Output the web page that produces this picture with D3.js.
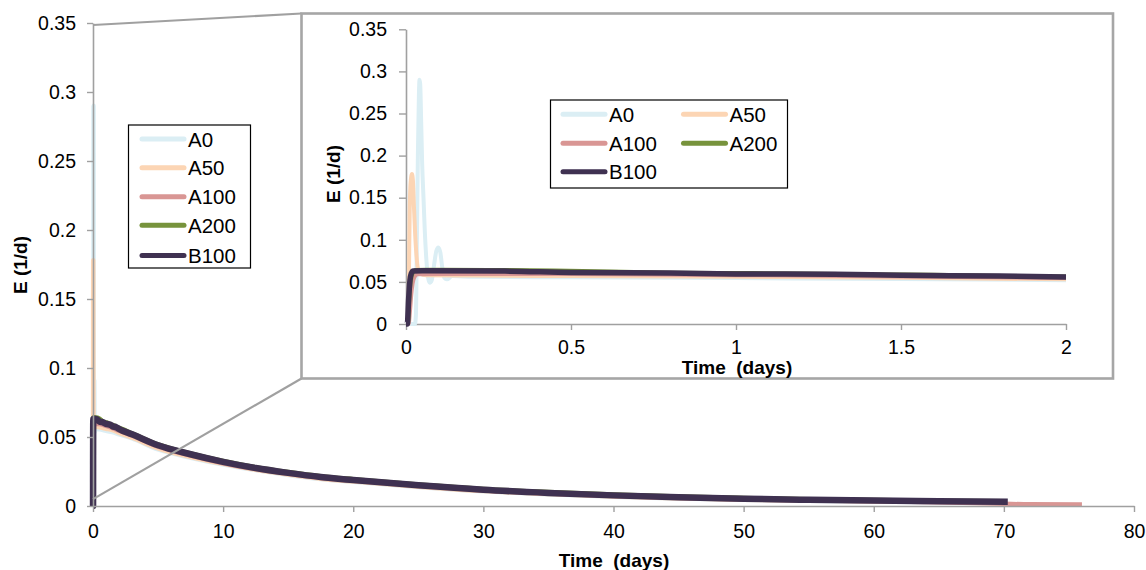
<!DOCTYPE html>
<html>
<head>
<meta charset="utf-8">
<script src="https://cdn.jsdelivr.net/npm/d3@7"></script>
<style>
  html, body { margin: 0; padding: 0; background: #fff; }
  svg { display: block; font-family: "Liberation Sans", Arial, sans-serif; }
  .title { white-space: pre; font-weight: bold; font-size: 19px; }
</style>
</head>
<body>
<svg id="chart" width="1146" height="570"></svg>
<script>
// Series names and colours
const seriesNames = ["A0", "A50", "A100", "A200", "B100"];
const seriesColors = ["#dbeef4", "#fcd5b4", "#d99694", "#77933c", "#3f3151"];
const mainWidths = [4.5, 4.5, 4.5, 4.5, 6.5];
const insetWidths = [4, 4, 4, 4, 5.5];

// E (1/d) against time (days), as [time, E] pairs
const A0 = [
  [0, 0], [0.027, 0], [0.030, 0.01], [0.033, 0.10], [0.036, 0.20], [0.039, 0.27], [0.041, 0.29],
  [0.043, 0.285], [0.046, 0.24], [0.049, 0.19], [0.053, 0.15], [0.057, 0.11], [0.062, 0.075],
  [0.067, 0.055], [0.072, 0.049], [0.078, 0.052], [0.085, 0.070], [0.092, 0.087], [0.098, 0.091],
  [0.104, 0.085], [0.110, 0.067], [0.116, 0.055], [0.124, 0.053], [0.14, 0.057], [0.2, 0.056],
  [0.5, 0.0555], [1.0, 0.0545], [1.5, 0.0535], [2.0, 0.052], [3, 0.049], [5, 0.041], [7.5, 0.035],
  [10, 0.030], [12.5, 0.026], [15, 0.0225], [17.5, 0.0195], [20, 0.0175], [25, 0.0138],
  [30, 0.0106], [35, 0.0085], [40, 0.0067], [45, 0.0054], [50, 0.0045], [55, 0.0038],
  [60, 0.0033], [64, 0.0029]
];
const A50 = [
  [0, 0], [0.007, 0], [0.009, 0.06], [0.011, 0.13], [0.014, 0.168], [0.018, 0.178], [0.021, 0.17],
  [0.024, 0.14], [0.028, 0.105], [0.032, 0.08], [0.036, 0.066], [0.042, 0.06], [0.06, 0.058],
  [0.2, 0.0575], [0.5, 0.057], [1.0, 0.056], [1.5, 0.055], [2.0, 0.053], [3, 0.0495], [5, 0.0418],
  [7.5, 0.0355], [10, 0.0305], [12.5, 0.0262], [15, 0.0228], [17.5, 0.0198], [20, 0.0178],
  [25, 0.014], [30, 0.0108], [35, 0.0087], [40, 0.0069], [45, 0.0056], [50, 0.0046],
  [55, 0.0039], [60, 0.0034], [64, 0.003]
];
const A100 = [
  [0, 0], [0.008, 0], [0.012, 0.015], [0.016, 0.035], [0.020, 0.048], [0.026, 0.056], [0.035, 0.059],
  [0.1, 0.0595], [0.5, 0.0595], [1.0, 0.058], [1.5, 0.0565], [2.0, 0.0545], [3, 0.051], [5, 0.043],
  [7.5, 0.0365], [10, 0.031], [12.5, 0.0268], [15, 0.0233], [17.5, 0.0203], [20, 0.0183],
  [25, 0.0145], [30, 0.0112], [35, 0.009], [40, 0.0072], [45, 0.0058], [50, 0.0048],
  [55, 0.0041], [60, 0.0035], [65, 0.0028], [70, 0.0016], [72, 0.0012], [76, 0.001]
];
const A200 = [
  [0, 0], [0.006, 0], [0.010, 0.03], [0.014, 0.05], [0.020, 0.06], [0.030, 0.064], [0.06, 0.0643],
  [0.25, 0.0642], [0.45, 0.0636], [0.8, 0.061], [1.05, 0.0605], [1.45, 0.0588], [1.6, 0.0585],
  [1.85, 0.0568], [2.0, 0.0565], [3, 0.0526], [5, 0.0446], [7.5, 0.0381], [10, 0.0326],
  [12.5, 0.0281], [15, 0.0246], [17.5, 0.0216], [20, 0.0194], [25, 0.0156], [30, 0.0124],
  [35, 0.0101], [40, 0.0083], [45, 0.0068], [50, 0.0058], [55, 0.0049], [60, 0.0043],
  [65, 0.0038], [70, 0.0034]
];
const B100 = [
  [0, 0], [0.004, 0], [0.008, 0.03], [0.012, 0.052], [0.016, 0.060], [0.022, 0.063], [0.05, 0.0632],
  [0.3, 0.0628], [0.5, 0.0612], [0.8, 0.0605], [1.0, 0.0595], [1.3, 0.059], [1.5, 0.0578],
  [1.8, 0.057], [2.0, 0.0558], [3, 0.052], [5, 0.044], [7.5, 0.0375], [10, 0.032], [12.5, 0.0275],
  [15, 0.024], [17.5, 0.021], [20, 0.0188], [25, 0.015], [30, 0.0118], [35, 0.0095], [40, 0.0077],
  [45, 0.0063], [50, 0.0053], [55, 0.0045], [60, 0.0039], [65, 0.0034], [70.3, 0.003]
];
const seriesData = [A0, A50, A100, A200, B100];

// Axis ticks
const mainXTicks = [0, 10, 20, 30, 40, 50, 60, 70, 80];
const mainYTicks = [0, 0.05, 0.1, 0.15, 0.2, 0.25, 0.3, 0.35];
const insetXTicks = [0, 0.5, 1, 1.5, 2];
const insetYTicks = [0, 0.05, 0.1, 0.15, 0.2, 0.25, 0.3, 0.35];

const svg = d3.select("#chart");
const axisColor = "#a0a0a0";
const tickFont = "19.5px";

function styleAxis(g) {
  g.selectAll("path.domain").attr("stroke", axisColor).attr("stroke-width", 1.6);
  g.selectAll(".tick line").attr("stroke", axisColor).attr("stroke-width", 1.4);
  g.selectAll(".tick text").attr("fill", "#000").style("font-size", tickFont)
    .style("font-family", '"Liberation Sans", Arial, sans-serif');
}

function drawLines(g, xs, ys, maxT, widths) {
  const line = d3.line().curve(d3.curveMonotoneX).x(d => xs(d[0])).y(d => ys(d[1]));
  seriesData.forEach((data, i) => {
    const pts = maxT == null ? data : data.filter(d => d[0] <= maxT + 1e-9);
    g.append("path")
      .datum(pts)
      .attr("d", line)
      .attr("fill", "none")
      .attr("stroke", seriesColors[i])
      .attr("stroke-width", widths[i])
      .attr("stroke-linejoin", "round")
      .attr("stroke-linecap", "butt");
  });
}

// ---------- Main chart ----------
const x = d3.scaleLinear().domain([0, 80]).range([93, 1134]);
const y = d3.scaleLinear().domain([0, 0.35]).range([506, 23]);

const mainG = svg.append("g");
drawLines(mainG, x, y, null, mainWidths);

mainG.append("g")
  .attr("transform", `translate(0,${y(0)})`)
  .call(d3.axisBottom(x).tickValues(mainXTicks).tickFormat(d3.format("d"))
    .tickSize(6).tickSizeOuter(0).tickPadding(12))
  .call(styleAxis);

mainG.append("g")
  .attr("transform", `translate(${x(0)},0)`)
  .call(d3.axisLeft(y).tickValues(mainYTicks).tickFormat(d => String(+d.toFixed(2)))
    .tickSize(6).tickSizeOuter(0).tickPadding(11))
  .call(styleAxis);

svg.append("text")
  .attr("class", "title")
  .attr("x", 614).attr("y", 567)
  .attr("text-anchor", "middle")
  .text("Time  (days)");

svg.append("text")
  .attr("class", "title")
  .attr("transform", "translate(27,265) rotate(-90)")
  .attr("text-anchor", "middle")
  .text("E (1/d)");

// Legend box with one sample line and label per series
function drawLegend(g, x0, y0, w, h, positions) {
  g.append("rect").attr("x", x0).attr("y", y0).attr("width", w).attr("height", h)
    .attr("fill", "#fff").attr("stroke", "#000").attr("stroke-width", 1.2);
  positions.forEach((p, i) => {
    g.append("line")
      .attr("x1", p[0]).attr("x2", p[0] + 42)
      .attr("y1", p[1]).attr("y2", p[1])
      .attr("stroke", seriesColors[i]).attr("stroke-width", 5)
      .attr("stroke-linecap", "round");
    g.append("text")
      .attr("x", p[0] + 46).attr("y", p[1] + 7.5)
      .style("font-size", "20.5px")
      .text(seriesNames[i]);
  });
}

drawLegend(svg.append("g"), 128.5, 125, 122, 143,
  [[142, 139], [142, 167.7], [142, 196.7], [142, 225.3], [142, 255.5]]);

// ---------- Zoom connectors and inset ----------
const box = { x0: 301.5, y0: 13.5, x1: 1113, y1: 378.5 };
svg.append("line")
  .attr("x1", x(0)).attr("y1", y(0.35) + 2).attr("x2", box.x0).attr("y2", box.y0)
  .attr("stroke", axisColor).attr("stroke-width", 2.2);
svg.append("line")
  .attr("x1", x(0)).attr("y1", y(0.005)).attr("x2", box.x0).attr("y2", box.y1)
  .attr("stroke", axisColor).attr("stroke-width", 2.2);

svg.append("rect")
  .attr("x", box.x0).attr("y", box.y0)
  .attr("width", box.x1 - box.x0).attr("height", box.y1 - box.y0)
  .attr("fill", "#fff").attr("stroke", "#a6a6a6").attr("stroke-width", 2.6);

const xi = d3.scaleLinear().domain([0, 2]).range([406, 1066]);
const yi = d3.scaleLinear().domain([0, 0.35]).range([324, 29.3]);

const insetG = svg.append("g");
insetG.append("g")
  .attr("transform", `translate(0,${yi(0)})`)
  .call(d3.axisBottom(xi).tickValues(insetXTicks).tickFormat(d => String(d))
    .tickSize(6).tickSizeOuter(0).tickPadding(10))
  .call(styleAxis);

insetG.append("g")
  .attr("transform", `translate(${xi(0)},0)`)
  .call(d3.axisLeft(yi).tickValues(insetYTicks).tickFormat(d => String(+d.toFixed(2)))
    .tickSize(7).tickSizeOuter(0).tickPadding(12))
  .call(styleAxis);

drawLines(insetG, xi, yi, 2, insetWidths);

svg.append("text")
  .attr("class", "title")
  .attr("x", 737).attr("y", 374)
  .attr("text-anchor", "middle")
  .text("Time  (days)");

svg.append("text")
  .attr("class", "title")
  .attr("transform", "translate(340,174) rotate(-90)")
  .attr("text-anchor", "middle")
  .text("E (1/d)");

drawLegend(svg.append("g"), 550.5, 100, 237, 88,
  [[563, 114.3], [683.5, 114.3], [563, 143.3], [683.5, 143.3], [563, 171.7]]);
</script>
</body>
</html>
